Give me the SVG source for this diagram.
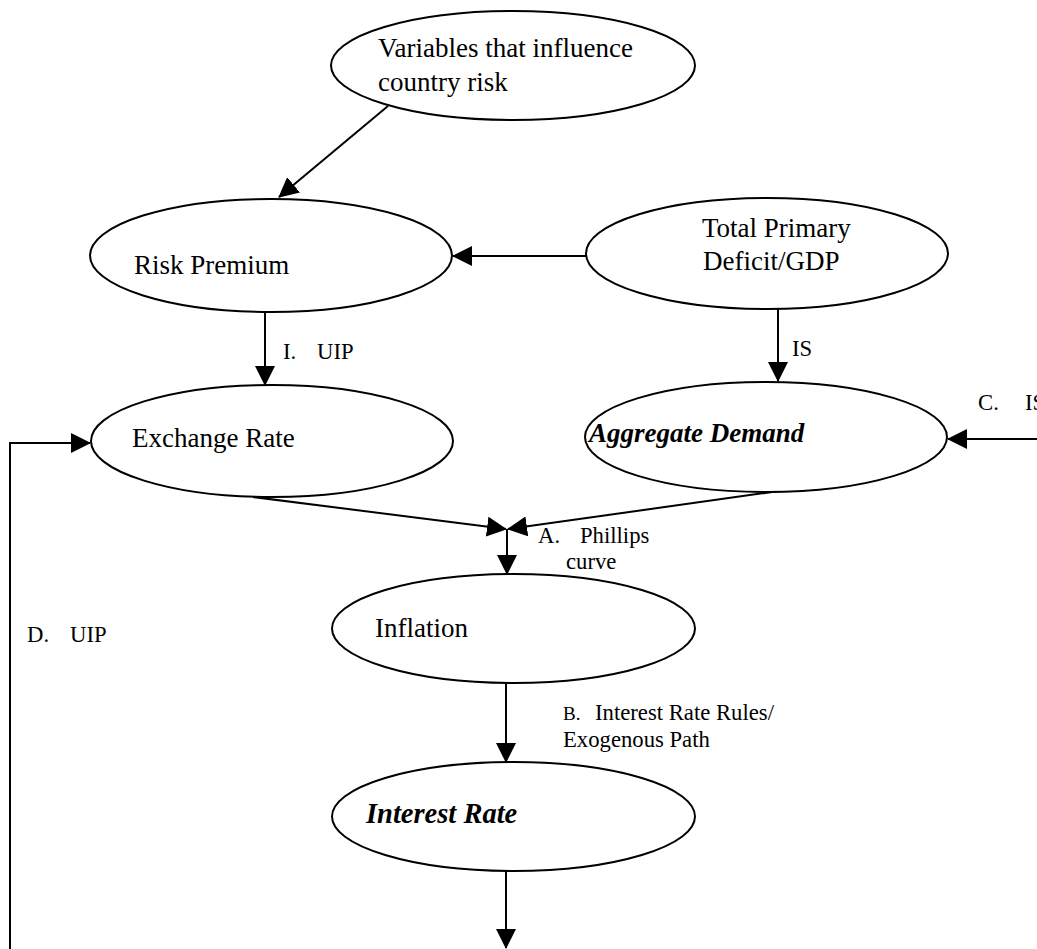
<svg xmlns="http://www.w3.org/2000/svg" width="1037" height="949" viewBox="0 0 1037 949">
<defs>
<marker id="ah" markerUnits="userSpaceOnUse" markerWidth="20" markerHeight="20" refX="19" refY="10" orient="auto">
<path d="M0,0 L20,10 L0,20 z" fill="#000"/>
</marker>
<style>
.node{fill:#fff;stroke:#000;stroke-width:2}
.t{font-family:"Liberation Serif","Times New Roman",serif;font-size:27px;fill:#000}
.bi{font-weight:bold;font-style:italic}
.lb{font-family:"Liberation Serif","Times New Roman",serif;font-size:22.7px;fill:#000}
.sm{font-size:19px}
.c{fill:none;stroke:#000;stroke-width:2}
.ca{fill:none;stroke:#000;stroke-width:2;marker-end:url(#ah)}
</style>
</defs>
<rect width="1037" height="949" fill="#fff"/>
<g id="connectors">
<line class="ca" x1="388" y1="106" x2="279" y2="197"/>
<line class="ca" x1="586" y1="256" x2="453" y2="256"/>
<line class="ca" x1="265" y1="312" x2="265" y2="385"/>
<line class="ca" x1="778" y1="309" x2="778" y2="381"/>
<line class="ca" x1="1037" y1="439" x2="948" y2="439"/>
<polyline class="ca" points="10,949 10,443 90,443"/>
<line class="ca" x1="253" y1="497" x2="506" y2="529"/>
<line class="ca" x1="779" y1="491" x2="508" y2="529"/>
<line class="ca" x1="507" y1="529" x2="507" y2="574"/>
<line class="ca" x1="506" y1="683" x2="506" y2="762"/>
<line class="ca" x1="506" y1="871" x2="506" y2="948"/>
<text class="lb" x="283" y="359">I.</text>
<text class="lb" x="317" y="359">UIP</text>
<text class="lb" x="792" y="356">IS</text>
<text class="lb" x="978" y="410">C.</text>
<text class="lb" x="1025" y="410">IS</text>
<text class="lb" x="27" y="642">D.</text>
<text class="lb" x="70" y="642">UIP</text>
<text class="lb" x="538" y="543">A.</text>
<text class="lb" x="580" y="543">Phillips</text>
<text class="lb" x="566" y="569">curve</text>
<text class="lb" x="563" y="720"><tspan class="sm">B.</tspan></text>
<text class="lb" x="595" y="720">Interest Rate Rules/</text>
<text class="lb" x="563" y="747">Exogenous Path</text>
</g>
<g id="variables">
<ellipse class="node" cx="513" cy="65.5" rx="182" ry="54.5"/>
<text class="t" x="378" y="57">Variables that influence</text>
<text class="t" x="378" y="91">country risk</text>
</g>
<g id="risk-premium">
<ellipse class="node" cx="271" cy="255.5" rx="181" ry="56.5"/>
<text class="t" x="134" y="274">Risk Premium</text>
</g>
<g id="total-primary">
<ellipse class="node" cx="767" cy="253.5" rx="181" ry="55.5"/>
<text class="t" x="702" y="237">Total Primary</text>
<text class="t" x="703" y="270">Deficit/GDP</text>
</g>
<g id="exchange-rate">
<ellipse class="node" cx="272" cy="441" rx="181" ry="56"/>
<text class="t" x="132" y="447">Exchange Rate</text>
</g>
<g id="aggregate-demand">
<ellipse class="node" cx="766" cy="437" rx="181" ry="55"/>
<text class="t bi" x="589" y="442">Aggregate Demand</text>
</g>
<g id="inflation">
<ellipse class="node" cx="513.5" cy="628.5" rx="181.5" ry="54.5"/>
<text class="t" x="375" y="637">Inflation</text>
</g>
<g id="interest-rate">
<ellipse class="node" cx="513.5" cy="816.5" rx="181.5" ry="54.5"/>
<text class="t bi" x="366" y="823" style="font-size:28.5px">Interest Rate</text>
</g>
</svg>
